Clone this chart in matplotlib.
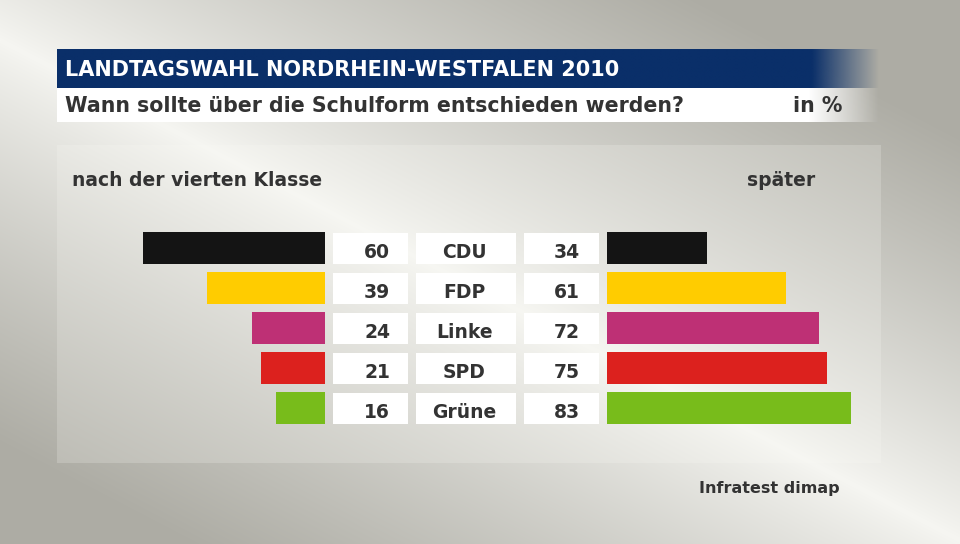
import numpy as np
import matplotlib.pyplot as plt
from matplotlib.patches import Rectangle
import matplotlib.colors as mcolors

# ---- data ----
parties = ["CDU", "FDP", "Linke", "SPD", "Grüne"]
fourth = [60, 39, 24, 21, 16]
later = [34, 61, 72, 75, 83]
colors = ["#141414", "#ffcc00", "#be3075", "#dc211e", "#78bc1b"]
title = "LANDTAGSWAHL NORDRHEIN-WESTFALEN 2010"
subtitle = "Wann sollte über die Schulform entschieden werden?"
unit = "in %"
left_label = "nach der vierten Klasse"
right_label = "später"
source = "Infratest dimap"

FONT = "DejaVu Sans"
TXT = "#333333"
W, H = 960, 544
fig = plt.figure(figsize=(9.6, 5.44), dpi=100)

# ---- background ----
bg = fig.add_axes([0, 0, 1, 1])
bg.set_xlim(0, W); bg.set_ylim(H, 0); bg.axis("off")
yy, xx = np.mgrid[0:H, 0:W].astype(float)
p0 = np.array([0.0, 40.0]); p1 = np.array([960.0, 540.0])
d = p1 - p0; n = np.array([-d[1], d[0]]) / np.hypot(*d)
dist = np.abs((xx - p0[0]) * n[0] + (yy - p0[1]) * n[1])
t = np.clip(dist / 360.0, 0, 1) ** 0.85
light = np.array(mcolors.to_rgb("#f6f6f2")); dark = np.array(mcolors.to_rgb("#adaca4"))
img = light[None, None, :] * (1 - t[..., None]) + dark[None, None, :] * t[..., None]
panel = (xx >= 57) & (xx <= 880) & (yy >= 145) & (yy <= 462)
img[panel] = img[panel] * 0.8 + 0.2 * np.array([0.98, 0.98, 0.96])
bg.imshow(img, extent=(0, W, H, 0), zorder=0, aspect="auto", interpolation="bilinear")

def fade_bar(x0, x1, xf, y0, y1, color):
    rgb = mcolors.to_rgb(color)
    xs = np.linspace(x0, x1, 400)
    a = np.clip((x1 - xs) / (x1 - xf), 0, 1)
    a = np.where(xs < xf, 1.0, a)
    arr = np.zeros((1, len(xs), 4)); arr[..., :3] = rgb; arr[..., 3] = a
    bg.imshow(arr, extent=(x0, x1, y1, y0), zorder=1, aspect="auto", interpolation="bilinear")

fade_bar(57, 880, 813, 49, 88, "#0a2f69")
fade_bar(57, 880, 810, 88, 122, "#ffffff")
bg.set_xlim(0, W); bg.set_ylim(H, 0)

kw = dict(fontweight="bold", family=FONT, va="baseline", zorder=3)
bg.text(65, 76, title, color="white", fontsize=15, ha="left", **kw)
bg.text(65, 112, subtitle, color=TXT, fontsize=14.8, ha="left", **kw)
bg.text(842, 112, unit, color=TXT, fontsize=14.8, ha="right", **kw)
bg.text(72, 186, left_label, color=TXT, fontsize=13.5, ha="left", **kw)
bg.text(815, 186, right_label, color=TXT, fontsize=13.5, ha="right", **kw)
bg.text(840, 493, source, color=TXT, fontsize=11.5, ha="right", **kw)

# ---- value / label boxes ----
for i, (p, a, b) in enumerate(zip(parties, fourth, later)):
    yc = 248 + 40 * i
    for x0, x1 in [(333, 408), (416, 516), (524, 599)]:
        bg.add_patch(Rectangle((x0, yc - 15.5), x1 - x0, 31.5, facecolor="white", edgecolor="none", zorder=2))
    bg.text(390, yc + 9.5, f"{a}", color=TXT, fontsize=13.5, ha="right", **kw)
    bg.text(464.5, yc + 9.5, p, color=TXT, fontsize=13.5, ha="center", **kw)
    bg.text(580, yc + 9.5, f"{b}", color=TXT, fontsize=13.5, ha="right", **kw)

# ---- bars ----
rows = np.arange(len(parties))
ax_b = 1 - 428 / H; ax_h = 200 / H
sl = 182 / 60.0  # px per unit left
axL = fig.add_axes([(325 - 100 * sl) / W, ax_b, 100 * sl / W, ax_h])
axL.patch.set_alpha(0)
axL.barh(rows, fourth, height=0.79, color=colors)
axL.set_xlim(100, 0); axL.set_ylim(4.5, -0.5); axL.axis("off")

sr = 244 / 83.0  # px per unit right
axR = fig.add_axes([607 / W, ax_b, 100 * sr / W, ax_h])
axR.patch.set_alpha(0)
axR.barh(rows, later, height=0.79, color=colors)
axR.set_xlim(0, 100); axR.set_ylim(4.5, -0.5); axR.axis("off")

fig.savefig("out.png", dpi=100)
